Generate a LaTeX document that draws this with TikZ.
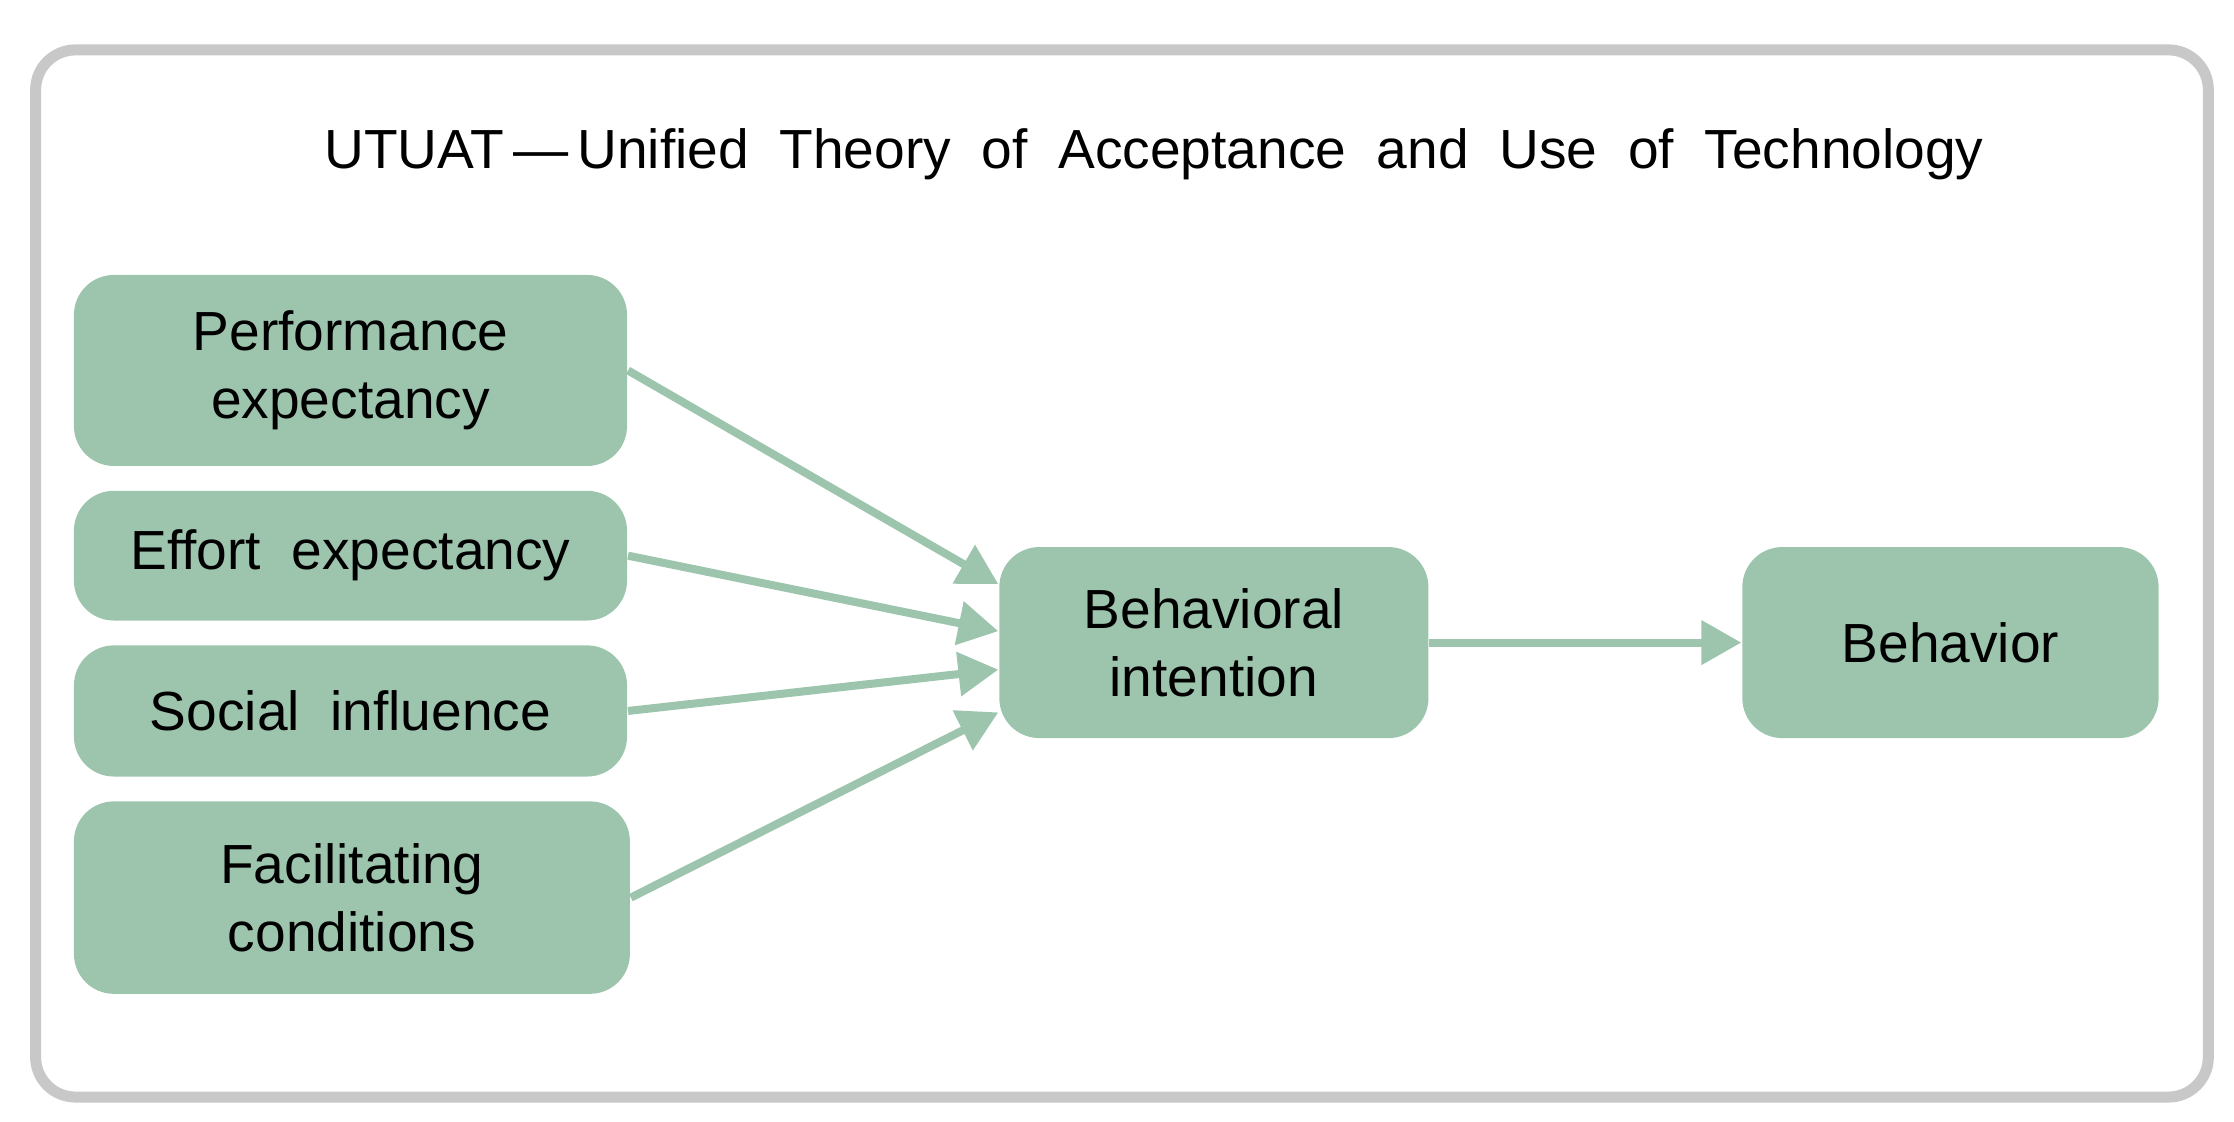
\documentclass[tikz,border=0pt]{standalone}
\usepackage{fontspec}
\setmainfont{Liberation Sans}
\usetikzlibrary{arrows.meta,calc}
\definecolor{boxg}{HTML}{9DC5AE}
\definecolor{frameg}{HTML}{C8C8C8}
\begin{document}
\begin{tikzpicture}[x=0.01cm,y=-0.01cm,
  box/.style={draw=none,fill=boxg,rounded corners=0.28cm,align=center,font=\fontsize{11pt}{13.5pt}\selectfont,inner sep=0pt},
  arr/.style={draw=boxg,line width=1.6pt,-{Triangle[width=0.3cm,length=0.28cm]}}]
\useasboundingbox (0,0) rectangle (1568,787);
\draw[frameg,line width=2.2pt,rounded corners=0.28cm] (25,35) rectangle (1550,770);
\node[font=\fontsize{11pt}{13pt}\selectfont] (title) at (810,108) {UTUAT\,—\,Unified\ \ Theory\ \ of\ \ Acceptance\ \ and\ \ Use\ \ of\ \ Technology};
\node[box,minimum width=3.88cm,minimum height=1.34cm] (pe) at (246,260) {Performance\\expectancy};
\node[box,minimum width=3.88cm,minimum height=0.91cm] (ee) at (246,390) {Effort\ \ expectancy};
\node[box,minimum width=3.88cm,minimum height=0.92cm] (si) at (246,499) {Social\ \ influence};
\node[box,minimum width=3.90cm,minimum height=1.35cm] (fc) at (247,630) {Facilitating\\conditions};
\node[box,minimum width=3.01cm,minimum height=1.34cm] (bi) at (852,451) {Behavioral\\intention};
\node[box,minimum width=2.92cm,minimum height=1.34cm] (b) at (1369,451) {Behavior};
\coordinate (t1) at ($(bi.west)+(0,-41)$);
\coordinate (t2) at ($(bi.west)+(0,-8)$);
\coordinate (t3) at ($(bi.west)+(0,19)$);
\coordinate (t4) at ($(bi.west)+(0,49)$);
\draw[arr] (pe.east) -- (t1);
\draw[arr] (ee.east) -- (t2);
\draw[arr] (si.east) -- (t3);
\draw[arr] (fc.east) -- (t4);
\draw[arr] (bi.east) -- (b.west);
\end{tikzpicture}
\end{document}
